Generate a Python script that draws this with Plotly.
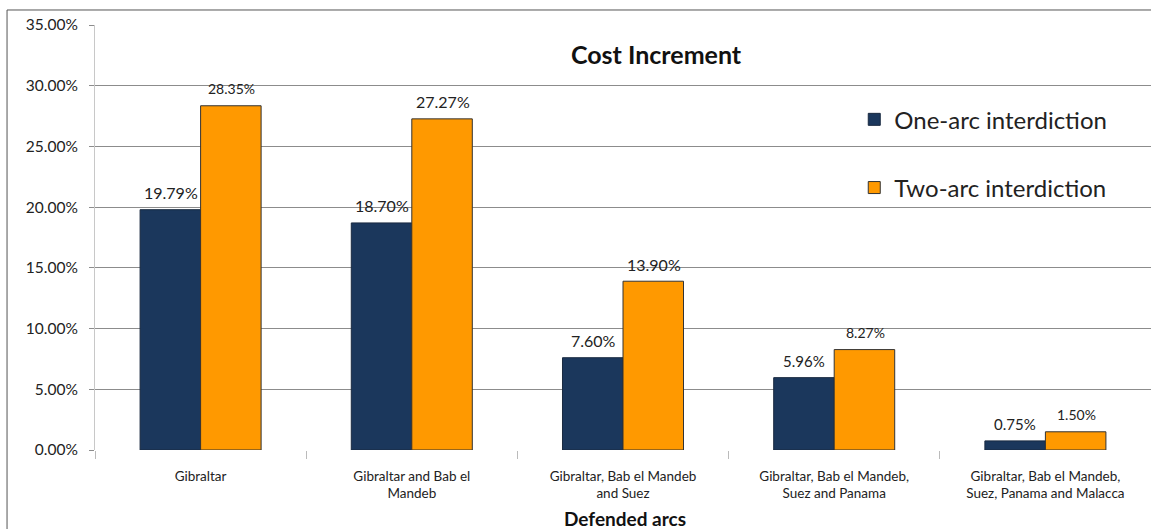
import plotly.graph_objects as go

categories = ["Gibraltar", "Gibraltar and Bab el<br>Mandeb", "Gibraltar, Bab el Mandeb<br>and Suez",
              "Gibraltar, Bab el Mandeb,<br>Suez and Panama", "Gibraltar, Bab el Mandeb,<br>Suez, Panama and Malacca"]
one_arc = [19.79, 18.70, 7.60, 5.96, 0.75]
two_arc = [28.35, 27.27, 13.90, 8.27, 1.50]
y_ticks = [0, 5, 10, 15, 20, 25, 30, 35]
y_tick_labels = ["%.2f%%" % v for v in y_ticks]

# label font sizes (style only)
one_sizes = [16, 16, 16, 15, 15]
two_sizes = [14, 16, 16, 14, 14]

FONT = "Lato"
fig = go.Figure()
fig.add_trace(go.Bar(x=categories, y=one_arc, name="One-arc interdiction",
                     marker=dict(color="#1B375C", line=dict(color="#1a2a40", width=1)),
                     legendgroup="a"))
fig.add_trace(go.Bar(x=categories, y=two_arc, name="Two-arc interdiction",
                     marker=dict(color="#FF9900", line=dict(color="#333", width=1)),
                     legendgroup="b"))

annotations = []
for series, sizes, dx in ((one_arc, one_sizes, -30), (two_arc, two_sizes, 31)):
    for c, v, s in zip(categories, series, sizes):
        annotations.append(dict(x=c, y=v, xref="x", yref="y", text="%.2f%%" % v, showarrow=False,
                                xshift=dx, yshift=17, yanchor="middle", xanchor="center",
                                font=dict(size=s, color="#222", family=FONT)))
annotations.append(dict(x=0.502, y=-0.162, xref="paper", yref="paper", text="<b>Defended arcs</b>",
                        showarrow=False, xanchor="center", yanchor="middle",
                        font=dict(size=19, color="#111", family=FONT)))

fig.update_layout(
    width=1151, height=529,
    margin=dict(l=95, r=0, t=25, b=79, autoexpand=False),
    paper_bgcolor="white", plot_bgcolor="white",
    barmode="group", bargap=0.427, bargroupgap=0,
    font=dict(family=FONT, color="#222"),
    title=dict(text="<b>Cost Increment</b>", x=0.570, xanchor="center", y=0.896, yanchor="middle",
               font=dict(size=25, color="#111", family=FONT)),
    legend=dict(x=0.719, y=0.83, xanchor="left", yanchor="top", bgcolor="rgba(0,0,0,0)",
                font=dict(size=24, color="#222", family=FONT), traceorder="grouped",
                tracegroupgap=34),
    showlegend=True,
    annotations=annotations,
    xaxis=dict(range=[-0.5, 4.5], showline=False, ticks="outside", tickson="boundaries",
               ticklen=8, tickcolor="#bbb", tickfont=dict(size=13.5, color="#222", family=FONT),
               ticklabelstandoff=16, showgrid=False, automargin=False),
    yaxis=dict(range=[0, 35], tickvals=y_ticks, ticktext=y_tick_labels,
               showgrid=True, gridcolor="#8c8c8c", gridwidth=1, zeroline=False,
               showline=True, linecolor="#c8c8c8", linewidth=1,
               ticks="outside", ticklen=5, tickcolor="#8c8c8c", ticklabelstandoff=8,
               tickfont=dict(size=15.5, color="#222", family=FONT), automargin=False),
    shapes=[dict(type="rect", xref="paper", yref="paper", x0=-0.0833, x1=1.02, y0=-0.3, y1=1.0353,
                 line=dict(color="#555", width=1), fillcolor="rgba(0,0,0,0)", layer="below")],
)
fig.write_html("out.html", config={"displayModeBar": False},
               post_script="document.body.style.margin='0';document.body.style.overflow='hidden';")
